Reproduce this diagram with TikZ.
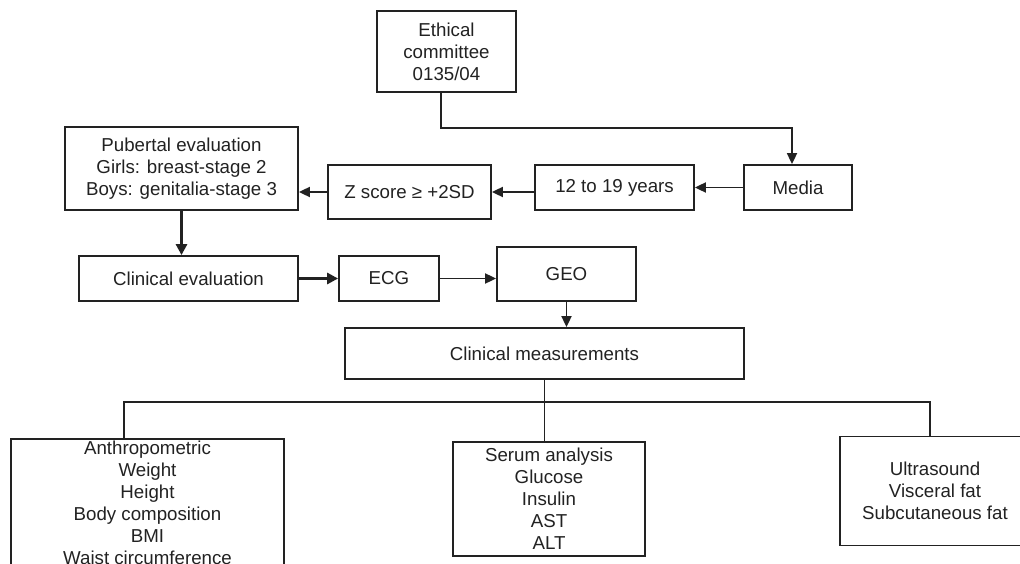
\documentclass[tikz,border=0pt]{standalone}
\usepackage{fontspec}
\setmainfont{Liberation Sans}
\usetikzlibrary{arrows.meta,calc}
\newcommand\diagfont{\fontsize{18.7}{22}\selectfont}
\definecolor{ink}{HTML}{222222}
\begin{document}
\begin{tikzpicture}[x=1pt,y=-1pt,
  box/.style={draw=ink, text=ink, line width=1.8pt, inner sep=0pt, align=center, font=\diagfont},
  conn/.style={draw=ink, line width=1.8pt},
  arr/.style={conn, -{Triangle[length=11pt,width=10pt]}},
  thickarr/.style={conn, line width=3pt, -{Triangle[length=11pt,width=11pt]}}]
\useasboundingbox (0,0) rectangle (1020,564);
\clip (0,0) rectangle (1020,564);
\fill[white] (0,0) rectangle (1020,564);
\node[box, minimum width=139pt, minimum height=81pt] (eth) at (446.5,51.5) {Ethical\\committee\\0135/04};
\node[box, minimum width=233pt, minimum height=83pt] (pub) at (181.5,168.5) {Pubertal evaluation\\Girls: breast-stage 2\\Boys: genitalia-stage 3};
\node[box, minimum width=163pt, minimum height=54pt] (zs) at (409.5,192) {Z score ≥ +2SD};
\node[box, minimum width=159pt, minimum height=45pt] (yrs) at (614.5,187.5) {12 to 19 years};
\node[box, minimum width=108pt, minimum height=45pt] (med) at (798,187.5) {Media};
\node[box, minimum width=219pt, minimum height=45pt] (cev) at (188.5,278.5) {Clinical evaluation};
\node[box, minimum width=100pt, minimum height=45pt] (ecg) at (389,278.5) {ECG};
\node[box, minimum width=139pt, minimum height=54pt] (geo) at (566.5,274) {GEO};
\node[box, minimum width=399pt, minimum height=51pt] (cm) at (544.5,353.5) {Clinical measurements};
\node[box, minimum width=273pt, minimum height=150pt, anchor=north, inner ysep=2pt] (anth) at (147.5,438) {Anthropometric\\Weight\\Height\\Body composition\\BMI\\Waist circumference\\[30pt]};
\node[box, minimum width=192pt, minimum height=114pt] (ser) at (549,499) {Serum analysis\\Glucose\\Insulin\\AST\\ALT};
\node[box, minimum width=190pt, minimum height=109pt] (ult) at (935,491) {Ultrasound\\Visceral fat\\Subcutaneous fat};
\coordinate (bend) at (792,128);
\draw[arr] ([xshift=-5.5pt]eth.south) |- (bend) -- (bend |- med.north);
\draw[arr] (med.west) -- (yrs.east);
\draw[arr] (yrs.west |- zs.east) -- (zs.east);
\draw[arr] (zs.west) -- (zs.west -| pub.east);
\draw[thickarr] (pub.south) -- (pub.south |- cev.north);
\draw[thickarr] (cev.east) -- (ecg.west);
\draw[arr] (ecg.east) -- (ecg.east -| geo.west);
\draw[arr] (geo.south) -- (geo.south |- cm.north);
\coordinate (jl) at (124,402);
\coordinate (jr) at (930,402);
\draw[conn] (cm.south) -- (cm.south |- ser.north);
\draw[conn] (jl |- anth.north) -- (jl) -- (jr) -- (jr |- ult.north);
\end{tikzpicture}
\end{document}
